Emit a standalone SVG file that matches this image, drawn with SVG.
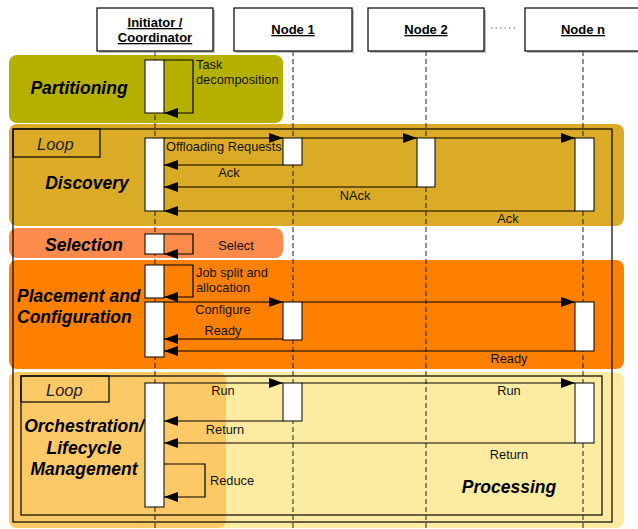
<svg xmlns="http://www.w3.org/2000/svg" width="638" height="529" viewBox="0 0 638 529">
<style>
.hdr{fill:#fff;stroke:#000;stroke-width:1.2}
.shd{fill:#888;opacity:.55}
.ht{font:bold 13px "Liberation Sans",Arial,sans-serif;text-decoration:underline;text-anchor:middle;fill:#000}
.ll{stroke:#222;stroke-width:1;stroke-dasharray:5 3;fill:none}
.act{fill:#fff;stroke:#000;stroke-width:1}
.msg{stroke:#000;stroke-width:1.2;fill:none}
.arr{marker-end:url(#ah)}
.lbl{font:12.8px "Liberation Sans",Arial,sans-serif;fill:#111}
.c{text-anchor:middle}
.ttl{font:italic bold 17.5px "Liberation Sans",Arial,sans-serif;fill:#000}
.loop{font:italic 16.5px "Liberation Sans",Arial,sans-serif;fill:#222}
.frame{fill:none;stroke:#000;stroke-width:1.2}
</style>
<defs>
<marker id="ah" markerUnits="userSpaceOnUse" markerWidth="14" markerHeight="10" refX="14" refY="5" orient="auto">
<path d="M0,0 L14,5 L0,10 z" fill="#000"/>
</marker>
</defs>
<g id="phases">
<rect id="bg-partitioning" x="9" y="55" width="274" height="68" rx="8" fill="#b5b000"/>
<rect id="bg-discovery" x="9" y="124" width="615" height="102" rx="8" fill="#dbab27"/>
<rect id="bg-selection" x="9" y="228" width="274" height="30" rx="8" fill="#fd8b4c"/>
<rect id="bg-placement" x="9" y="260" width="615" height="109" rx="8" fill="#fd8000"/>
<rect id="bg-processing" x="9" y="372" width="615" height="156" rx="8" fill="#fdeba2"/>
<rect id="bg-orchestration" x="9" y="372" width="217" height="156" rx="8" fill="#fdc966"/>
</g>
<g id="frames">
<rect class="frame" x="13" y="129" width="599" height="393"/>
<rect class="frame" x="13" y="129" width="87" height="28"/>
<text class="loop" x="37" y="150">Loop</text>
<rect class="frame" x="21" y="376" width="581" height="139"/>
<rect class="frame" x="21" y="376" width="88" height="26"/>
<text class="loop" x="46" y="396">Loop</text>
</g>
<g id="phase-titles">
<text class="ttl c" x="79" y="94">Partitioning</text>
<text class="ttl c" x="87" y="189">Discovery</text>
<text class="ttl c" x="84" y="251">Selection</text>
<text class="ttl" x="17" y="302">Placement and</text>
<text class="ttl" x="17" y="323">Configuration</text>
<text class="ttl c" x="84" y="432">Orchestration/</text>
<text class="ttl c" x="84" y="454">Lifecycle</text>
<text class="ttl c" x="84" y="475">Management</text>
<text class="ttl c" x="509" y="493">Processing</text>
</g>
<g id="lifelines">
<line class="ll" x1="155" y1="51" x2="155" y2="529"/>
<line class="ll" x1="293" y1="51" x2="293" y2="529"/>
<line class="ll" x1="426" y1="51" x2="426" y2="529"/>
<line class="ll" x1="583" y1="51" x2="583" y2="529"/>
</g>
<g id="initiator">
<rect class="shd" x="99" y="10" width="116" height="43"/>
<rect class="hdr" x="97" y="8" width="116" height="43"/>
<text class="ht" x="155" y="27">Initiator /</text>
<text class="ht" x="155" y="42">Coordinator</text>
</g>
<g id="node1">
<rect class="shd" x="236" y="10" width="118" height="43"/>
<rect class="hdr" x="234" y="8" width="118" height="43"/>
<text class="ht" x="293" y="34">Node 1</text>
</g>
<g id="node2">
<rect class="shd" x="370" y="10" width="116" height="43"/>
<rect class="hdr" x="368" y="8" width="116" height="43"/>
<text class="ht" x="426" y="34">Node 2</text>
</g>
<g id="noden">
<rect class="shd" x="527" y="10" width="116" height="43"/>
<rect class="hdr" x="525" y="8" width="116" height="43"/>
<text class="ht" x="583" y="34">Node n</text>
</g>
<line id="ellipsis" x1="491" y1="28" x2="515" y2="28" stroke="#666" stroke-width="1.2" stroke-dasharray="1.5 3"/>
<g id="activations">
<rect class="act" x="145" y="60" width="19" height="53"/>
<rect class="act" x="145" y="138" width="19" height="73"/>
<rect class="act" x="145" y="234" width="19" height="20"/>
<rect class="act" x="145" y="265" width="19" height="33"/>
<rect class="act" x="145" y="302" width="19" height="55"/>
<rect class="act" x="145" y="383" width="19" height="124"/>
<rect class="act" x="283" y="138" width="19" height="27"/>
<rect class="act" x="283" y="302" width="19" height="38"/>
<rect class="act" x="283" y="383" width="19" height="38"/>
<rect class="act" x="417" y="138" width="18" height="49"/>
<rect class="act" x="575" y="138" width="19" height="73"/>
<rect class="act" x="575" y="302" width="19" height="49"/>
<rect class="act" x="575" y="383" width="19" height="60"/>
</g>
<g id="connectors">
<path class="msg arr" d="M164,60 H193 V113 H164"/>
<path class="msg arr" d="M164,138 H283"/>
<path class="msg arr" d="M302,138 H417"/>
<path class="msg arr" d="M435,138 H575"/>
<path class="msg arr" d="M283,165 H164"/>
<path class="msg arr" d="M417,187 H164"/>
<path class="msg arr" d="M575,211 H164"/>
<path class="msg arr" d="M164,234 H193 V254 H164"/>
<path class="msg arr" d="M164,265 H193 V297 H164"/>
<path class="msg arr" d="M164,302 H283"/>
<path class="msg arr" d="M302,302 H575"/>
<path class="msg arr" d="M283,339 H164"/>
<path class="msg arr" d="M575,351 H164"/>
<path class="msg arr" d="M164,383 H283"/>
<path class="msg arr" d="M302,383 H575"/>
<path class="msg arr" d="M283,421 H164"/>
<path class="msg arr" d="M575,443 H164"/>
<path class="msg arr" d="M164,464 H205 V497 H164"/>
</g>
<g id="labels">
<text class="lbl" x="196" y="69">Task</text>
<text class="lbl" x="196" y="84">decomposition</text>
<text class="lbl" x="166" y="151">Offloading Requests</text>
<text class="lbl c" x="229" y="177">Ack</text>
<text class="lbl c" x="355" y="200">NAck</text>
<text class="lbl c" x="508" y="223">Ack</text>
<text class="lbl c" x="236" y="250">Select</text>
<text class="lbl" x="196" y="277">Job split and</text>
<text class="lbl" x="196" y="292">allocation</text>
<text class="lbl c" x="223" y="314">Configure</text>
<text class="lbl c" x="223" y="335">Ready</text>
<text class="lbl c" x="509" y="363">Ready</text>
<text class="lbl c" x="223" y="395">Run</text>
<text class="lbl c" x="509" y="395">Run</text>
<text class="lbl c" x="225" y="434">Return</text>
<text class="lbl c" x="509" y="459">Return</text>
<text class="lbl" x="210" y="485">Reduce</text>
</g>
</svg>
